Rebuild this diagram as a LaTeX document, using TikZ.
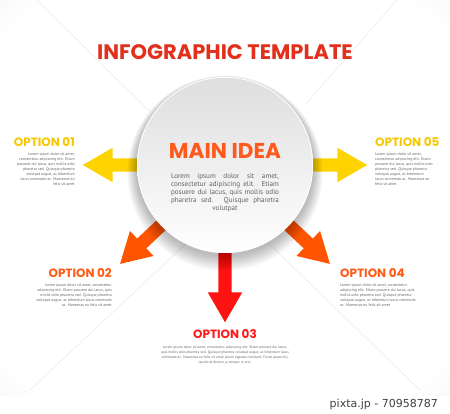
\documentclass[tikz,border=0pt]{standalone}
\usepackage{fontspec}
\setmainfont{PT Sans}
\newfontfamily\headfont{Poppins}
\newfontfamily\markfont{DejaVu Sans}
\usetikzlibrary{positioning, calc, shapes.arrows}

\definecolor{titlered}{HTML}{E2301C}
\definecolor{ideaorange}{HTML}{FF5A1E}
\definecolor{optyellow}{HTML}{F7C800}
\definecolor{arryellow}{HTML}{FDD300}
\definecolor{optorange}{HTML}{FF5A14}
\definecolor{arrorange}{HTML}{FF5500}
\definecolor{optred}{HTML}{FF1A1A}
\definecolor{arrred}{HTML}{FF1212}
\definecolor{bodygray}{HTML}{686868}
\definecolor{vignette}{HTML}{C9BCC0}

\pgfdeclareradialshading{vig}{\pgfpoint{0bp}{0bp}}{color(0bp)=(white); color(32bp)=(white); color(50bp)=(vignette!45); color(71bp)=(vignette)}

\newcommand{\jline}[1]{\makebox[108pt][s]{\spaceskip=0pt\xspaceskip=0pt\relax #1}}

\begin{document}
\begin{tikzpicture}[x=1pt,y=1pt]
    \tikzset{
        opttitle/.style={font=\headfont\bfseries\fontsize{12}{12}\selectfont, inner sep=0pt},
        optbody/.style={font=\fontsize{3.9}{5}\selectfont, text=bodygray, inner sep=0pt},
        optarrow/.style={single arrow, draw=none, inner xsep=0pt, inner ysep=6.5pt, minimum width=34pt, single arrow head extend=10.5pt, single arrow tip angle=60, anchor=tail},
        fold/.style={black, opacity=0.07, line width=0.7pt}
    }
    \useasboundingbox (0,0) rectangle (450,414);
    \fill[white] (0,0) rectangle (450,414);
    \shade[shading=vig] (0,18) rectangle (450,414);
    \draw[fold] (37,414) -- (150,302);
    \draw[fold] (397,414) -- (305,309);
    \draw[fold] (30,24) -- (190,174);
    \draw[fold] (420,24) -- (265,174);

    \node[circle, minimum size=176pt, inner sep=0pt] (main) at (225,249) {};

    \node[optarrow, fill=arryellow, rotate=180, minimum height=64pt] (arr1) at ($(main.center)+(-78,0)$) {};
    \node[optarrow, fill=arrorange, rotate=223.3, minimum height=66pt] (arr2) at ($(main.center)+(223.3:78)$) {};
    \node[optarrow, fill=arrred, rotate=-90, minimum height=77pt] (arr3) at ($(main.center)+(0,-80)$) {};
    \node[optarrow, fill=arrorange, rotate=-43.3, minimum height=66pt] (arr4) at ($(main.center)+(-43.3:78)$) {};
    \node[optarrow, fill=arryellow, minimum height=64pt] (arr5) at ($(main.center)+(78,0)$) {};

    \foreach \s in {1,...,14}
        \fill[black, opacity=0.018] ($(main.center)+(0,-2-0.45*\s)$) circle ({88+0.7*\s});
    \shade[top color=black!13, bottom color=white] (main.center) circle (88);
    \draw[white, line width=0.8pt] (main.center) circle (87.6);

    \node[font=\headfont\bfseries\fontsize{21}{21}\selectfont, text=titlered, inner sep=0pt, anchor=base] (title) at (225,354) {INFOGRAPHIC TEMPLATE};
    \node[font=\headfont\bfseries\fontsize{21.5}{21.5}\selectfont, text=ideaorange, inner sep=0pt, anchor=base] (idea) at (225,255) {MAIN IDEA};
    \node[below=14pt of idea, font=\fontsize{7.1}{7.9}\selectfont, text=black!62, inner sep=0pt, text width=108pt, align=center] (ideatext) {%
        \jline{Lorem ipsum dolor sit amet,}\\
        \jline{consectetur adipiscing elit. Etiam}\\
        \jline{posuere dui lacus, quis mollis odio}\\
        \jline{pharetra sed. Quisque pharetra}\\
        volutpat};

    \node[opttitle, text=optyellow, anchor=base east] (t1) at (75,267) {OPTION 01};
    \node[optbody, align=right, below left=5.5pt and 0pt of t1.south east] (b1) {Lorem ipsum dolor sit amet,\\ consectetur adipiscing elit. Etiam\\ posuere dui lacus, quis mollis odio\\ pharetra sed. Quisque pharetra\\ volutpat augue, ac bibendum\\ lacus commodo ac. Maecenas eu\\ felis sit amet};

    \node[opttitle, text=optyellow, anchor=base west] (t5) at (375,267) {OPTION 05};
    \node[optbody, align=left, below right=5.5pt and 0pt of t5.south west] (b5) {Lorem ipsum dolor sit amet,\\ consectetur adipiscing elit. Etiam\\ posuere dui lacus, quis mollis odio\\ pharetra sed. Quisque pharetra\\ volutpat augue, ac bibendum\\ lacus commodo ac. Maecenas eu\\ felis sit amet};

    \node[opttitle, text=optorange, anchor=base east] (t2) at (112,136) {OPTION 02};
    \node[optbody, align=right, below left=5.5pt and 0pt of t2.south east] (b2) {Lorem ipsum dolor sit amet, consectetur\\ adipiscing elit. Etiam posuere dui lacus, quis\\ mollis odio pharetra sed. Quisque pharetra\\ volutpat augue, ac bibendum lacus commodo\\ ac. Maecenas eu felis sit amet};

    \node[opttitle, text=optorange, anchor=base west] (t4) at (340,136) {OPTION 04};
    \node[optbody, align=left, below right=5.5pt and 0pt of t4.south west] (b4) {Lorem ipsum dolor sit amet, consectetur\\ adipiscing elit. Etiam posuere dui lacus, quis\\ mollis odio pharetra sed. Quisque pharetra\\ volutpat augue, ac bibendum lacus commodo\\ ac. Maecenas eu felis sit amet};

    \node[opttitle, text=optred, anchor=base] (t3) at (225,75) {OPTION 03};
    \node[optbody, font=\fontsize{3.6}{5}\selectfont, align=center, below=6pt of t3] (b3) {Lorem ipsum dolor sit amet, consectetur adipiscing elit. Etiam posuere dui lacus,\\ quis mollis odio pharetra sed. Quisque pharetra volutpat augue, ac bibendum lacus\\ commodo ac. Maecenas eu felis sit amet ipsum egestas tincidunt. Fusce quam dui,\\ iaculis at dictum a, tempus in orci.};

    \node[font=\markfont\fontsize{11}{11}\selectfont, text=black!75, inner sep=0pt, anchor=base east] (mark) at (438,6) {pixta.jp - 70958787};
\end{tikzpicture}
\end{document}
